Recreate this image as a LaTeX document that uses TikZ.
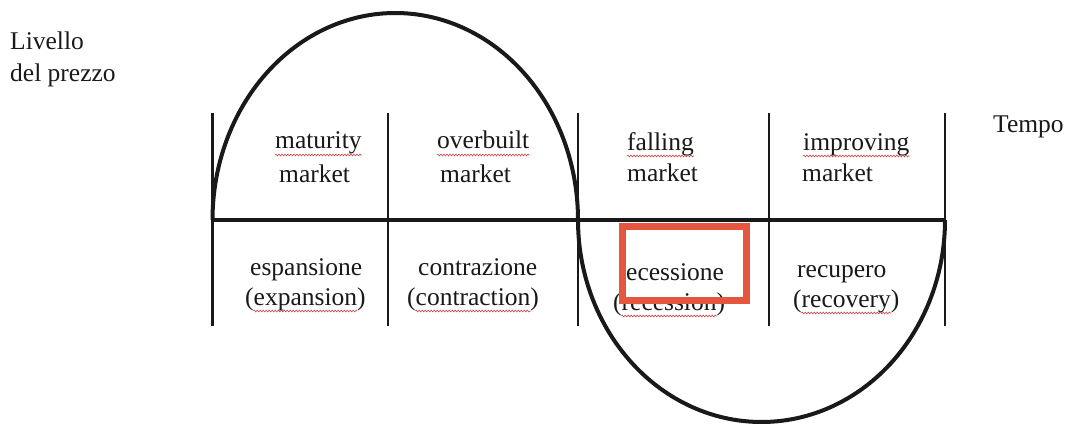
\documentclass[tikz,border=0pt]{standalone}
\usepackage{fontspec}
\setmainfont{Liberation Serif}
\usetikzlibrary{calc,decorations.pathmorphing}
\definecolor{ink}{RGB}{25,25,25}
\definecolor{boxred}{RGB}{228,86,64}
\definecolor{sqred}{RGB}{205,70,70}
\tikzset{
  lbl/.style={anchor=base west,inner sep=0pt,text=ink,font=\fontsize{25.5}{30}\selectfont},
  sq/.style={draw=sqred,line width=0.6pt,decorate,decoration={snake,amplitude=0.9pt,segment length=3pt}},
  vline/.style={draw=ink,line width=2.2pt},
  axis/.style={draw=ink,line width=4pt},
  wave/.style={draw=ink,line width=4pt},
  hl/.style={draw=boxred,line width=7pt}
}
\begin{document}
\begin{tikzpicture}[x=1pt,y=-1pt]
\useasboundingbox (0,0) rectangle (1065,425);
% grid
\foreach \i/\x in {a/212.5,b/388,c/578,d/769,e/945}{
  \coordinate (t\i) at (\x,113);
  \coordinate (b\i) at (\x,326);
  \draw[vline] (t\i) -- (b\i);
}
\coordinate (axL) at (212.5,220);
\coordinate (axR) at (945,220);
\draw[axis] (axL) -- (axR);
% waves
\draw[wave] plot[smooth,domain=180:0,samples=120] ({395.25+182.75*cos(\x)},{220-207*sin(\x)});
\draw[wave] plot[smooth,domain=180:360,samples=120] ({761.5+183.5*cos(\x)},{220-202*sin(\x)});
% axis labels
\node[lbl] (liv) at (10,50) {Livello};
\node[lbl] (del) at (10,82) {del prezzo};
\node[lbl] (tempo) at (993,132) {Tempo};
% upper labels
\node[lbl] (mat) at (275,149) {maturity};
\node[lbl] (mat2) at (279,182) {market};
\node[lbl] (ovb) at (437,149) {overbuilt};
\node[lbl] (ovb2) at (440,182) {market};
\node[lbl] (fal) at (627,150) {falling};
\node[lbl] (fal2) at (627,181) {market};
\node[lbl] (imp) at (803,150) {improving};
\node[lbl] (imp2) at (802,181) {market};
% lower labels
\node[lbl] (esp) at (250,275) {espansione};
\node[lbl] (exp) at (245,305) {(expansion)};
\node[lbl] (con) at (418,275) {contrazione};
\node[lbl] (ctr) at (407,305) {(contraction)};
\node[lbl] (rec) at (626,280) {ecessione};
\node[lbl] (rcs) at (613,310) {(recession)};
\node[lbl] (rcp) at (797,277) {recupero};
\node[lbl] (rcv) at (793,307) {(recovery)};
% spell-check squiggles
\foreach \n/\a in {mat/0,ovb/0,fal/0,imp/0,exp/8.3,ctr/8.3,rcs/8.3,rcv/8.3}{
  \draw[sq] ($(\n.base west)+(\a,6)$) -- ($(\n.base east)+(-\a,6)$);
}
% red highlight box
\coordinate (hlA) at (622,226);
\coordinate (hlB) at (746.5,300);
\draw[hl] (hlA) rectangle (hlB);
\end{tikzpicture}
\end{document}
